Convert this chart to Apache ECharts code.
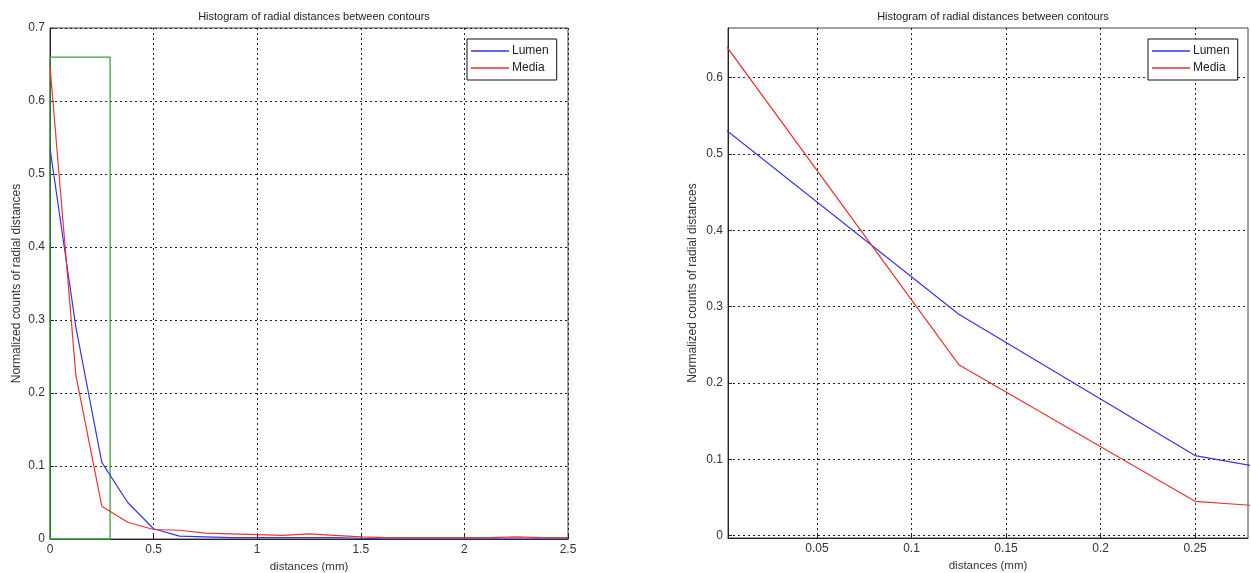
<!DOCTYPE html>
<html>
<head>
<meta charset="utf-8">
<script src="https://cdn.jsdelivr.net/npm/echarts@6/dist/echarts.min.js"></script>
<style>html,body{margin:0;padding:0;background:#fff;}#c{width:1251px;height:573px;}</style>
</head>
<body>
<div id="c"></div>
<script>
// ---- data ----
const binX   = [0, 0.125, 0.25, 0.375, 0.5, 0.625, 0.75, 0.875, 1.0, 1.125, 1.25, 1.375, 1.5, 1.625, 1.75, 1.875, 2.0, 2.125, 2.25, 2.375, 2.5];
const lumen  = [0.535, 0.29, 0.105, 0.05, 0.014, 0.004, 0.003, 0.002, 0.002, 0.002, 0.002, 0.002, 0.001, 0, 0, 0, 0, 0, 0, 0, 0];
const media  = [0.648, 0.224, 0.045, 0.023, 0.013, 0.012, 0.008, 0.007, 0.006, 0.005, 0.007, 0.005, 0.003, 0.002, 0.002, 0.002, 0.002, 0.002, 0.003, 0.002, 0.002];
const greenX = [0, 0, 0.29, 0.29, 0];
const greenY = [0, 0.66, 0.66, 0, 0];
const leftXTicks  = [0, 0.5, 1, 1.5, 2, 2.5];
const leftYTicks  = [0, 0.1, 0.2, 0.3, 0.4, 0.5, 0.6, 0.7];
const rightXTicks = [0.05, 0.1, 0.15, 0.2, 0.25];
const rightYTicks = [0, 0.1, 0.2, 0.3, 0.4, 0.5, 0.6];
const titleText = 'Histogram of radial distances between contours';
const xName = 'distances (mm)';
const yName = 'Normalized counts of radial distances';

const pairs = (xs, ys) => xs.map((x, i) => [x, ys[i]]);
const FONT = 'Liberation Sans';
const BLUE = '#3535e6', RED = '#e63535', GREEN = '#3f9f3f';

function xAxis(idx, min, max, ticks) {
  return {
    type: 'value', gridIndex: idx, min: min, max: max,
    name: xName, nameLocation: 'middle', nameGap: 17,
    nameTextStyle: {fontFamily: FONT, fontSize: 11.5, color: '#333'},
    axisLine: {show: true, onZero: false, lineStyle: {color: '#222', width: 1}},
    axisTick: {show: true, inside: true, length: 4, customValues: ticks, lineStyle: {color: '#222'}},
    axisLabel: {customValues: ticks, fontFamily: FONT, fontSize: 12, color: '#333', margin: 5,
      formatter: v => String(+v.toFixed(4))},
    splitLine: {show: true, lineStyle: {color: '#222', type: [2, 3], width: 1}}
  };
}
function yAxis(idx, min, max, ticks, gap) {
  return {
    type: 'value', gridIndex: idx, min: min, max: max,
    name: yName, nameLocation: 'middle', nameGap: gap, nameRotate: 90,
    nameTextStyle: {fontFamily: FONT, fontSize: 12, color: '#333'},
    axisLine: {show: true, onZero: false, lineStyle: {color: '#222', width: 1}},
    axisTick: {show: true, inside: true, length: 4, customValues: ticks, lineStyle: {color: '#222'}},
    axisLabel: {customValues: ticks, fontFamily: FONT, fontSize: 12, color: '#333', margin: 5,
      formatter: v => String(+v.toFixed(4))},
    splitLine: {show: true, lineStyle: {color: '#222', type: [2, 3], width: 1}}
  };
}
function lineSeries(name, data, color, xi, yi) {
  return {type: 'line', name: name, data: data, xAxisIndex: xi, yAxisIndex: yi,
    showSymbol: false, symbol: 'none', clip: true, animation: false,
    lineStyle: {color: color, width: 1.2}, itemStyle: {color: color}};
}
function legend(left, top) {
  return {data: ['Lumen', 'Media'], orient: 'vertical', left: left, top: top,
    icon: 'rect', itemWidth: 38, itemHeight: 1.5, itemGap: 5,
    borderColor: '#111', borderWidth: 1, backgroundColor: '#fff', padding: [6, 8, 6, 4],
    textStyle: {fontFamily: FONT, fontSize: 12, color: '#222', padding: [0, 0, 0, -2]}};
}

const chart = echarts.init(document.getElementById('c'), null, {renderer: 'canvas'});
chart.setOption({
  backgroundColor: '#fff',
  animation: false,
  title: [
    {text: titleText, left: 309, top: 6, textAlign: 'center',
     textStyle: {fontFamily: FONT, fontSize: 11, fontWeight: 'normal', color: '#222'}},
    {text: titleText, left: 988, top: 6, textAlign: 'center',
     textStyle: {fontFamily: FONT, fontSize: 11, fontWeight: 'normal', color: '#222'}}
  ],
  legend: [legend(467, 39), legend(1148, 39)],
  grid: [
    {left: 50, top: 28, width: 518, height: 511, show: true, borderColor: '#444', borderWidth: 1,
     backgroundColor: '#fff', containLabel: false, outerBoundsMode: 'none'},
    {left: 728, top: 28, width: 520, height: 510, show: true, borderColor: '#444', borderWidth: 1,
     backgroundColor: '#fff', containLabel: false, outerBoundsMode: 'none'}
  ],
  xAxis: [xAxis(0, 0, 2.5, leftXTicks), xAxis(1, 0.0029, 0.278, rightXTicks)],
  yAxis: [yAxis(0, 0, 0.7, leftYTicks, 27), yAxis(1, -0.003, 0.665, rightYTicks, 29)],
  series: [
    {type: 'line', name: 'box', data: pairs(greenX, greenY), xAxisIndex: 0, yAxisIndex: 0,
     showSymbol: false, symbol: 'none', lineStyle: {color: GREEN, width: 1.3}, clip: false},
    lineSeries('Lumen', pairs(binX, lumen), BLUE, 0, 0),
    lineSeries('Media', pairs(binX, media), RED, 0, 0),
    lineSeries('Lumen', pairs(binX, lumen), BLUE, 1, 1),
    lineSeries('Media', pairs(binX, media), RED, 1, 1)
  ]
});
</script>
</body>
</html>
